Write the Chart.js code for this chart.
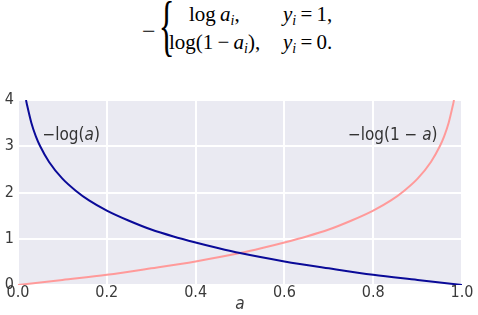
<!DOCTYPE html>
<html>
<head>
<meta charset="utf-8">
<script src="https://cdn.jsdelivr.net/npm/chart.js@4"></script>
<style>
  body { margin: 0; background: #fff; width: 478px; height: 315px; overflow: hidden; position: relative; }
  #formula { position: absolute; left: 0; top: 0; width: 478px; height: 80px; font-family: "Liberation Serif", serif; font-size: 21px; color: #000; }
  #formula span { position: absolute; line-height: 20px; white-space: nowrap; }
  #formula i { font-style: italic; }
  #formula sub { font-size: 14px; font-style: italic; vertical-align: -4px; line-height: 0; }
  #brace { font-size: 44px !important; line-height: 44px !important; transform: scale(0.75, 1.55); }
  #minus { font-size: 24px; line-height: 24px !important; }
  #wrap { position: absolute; left: 0; top: 80px; width: 478px; height: 235px; }
</style>
</head>
<body>
<div id="formula">
  <span id="minus" style="left:142px; top:19px;">−</span>
  <span id="brace" style="left:156px; top:4px;">{</span>
  <span style="left:189px; top:4px;">log&#8201;<i>a</i><sub>i</sub>,</span>
  <span style="left:283px; top:4px;"><i>y</i><sub>i</sub>&#8201;=&#8201;1,</span>
  <span style="left:169px; top:32px;">log(1&#8201;−&#8201;<i>a</i><sub>i</sub>),</span>
  <span style="left:283px; top:32px;"><i>y</i><sub>i</sub>&#8201;=&#8201;0.</span>
</div>
<div id="wrap"><canvas id="chart" width="478" height="235"></canvas></div>
<script>
// -log(a)
const blueX = [0.018, 0.02, 0.03, 0.04, 0.05, 0.07, 0.1, 0.13, 0.16, 0.2, 0.25, 0.3, 0.35, 0.4, 0.45, 0.5, 0.6, 0.7, 0.8, 0.9, 1.0];
const blueY = [4.0, 3.91, 3.51, 3.22, 3.0, 2.66, 2.30, 2.04, 1.83, 1.61, 1.39, 1.20, 1.05, 0.92, 0.80, 0.69, 0.51, 0.36, 0.22, 0.11, 0.0];
// -log(1-a)
const pinkX = [0, 0.1, 0.2, 0.3, 0.4, 0.5, 0.55, 0.6, 0.65, 0.7, 0.75, 0.8, 0.84, 0.87, 0.9, 0.93, 0.95, 0.96, 0.97, 0.98, 0.982];
const pinkY = [0, 0.11, 0.22, 0.36, 0.51, 0.69, 0.80, 0.92, 1.05, 1.20, 1.39, 1.61, 1.83, 2.04, 2.30, 2.66, 3.0, 3.22, 3.51, 3.91, 4.0];

const xTicks = [0, 0.2, 0.4, 0.6, 0.8, 1.0];
const yTicks = [0, 1, 2, 3, 4];
const labels = [
  { text: '−log(a)', x: 0.055, y: 3.22, align: 'left' },
  { text: '−log(1 − a)', x: 0.945, y: 3.22, align: 'right' }
];

const toPoints = (xs, ys) => xs.map((x, i) => ({ x: x, y: ys[i] }));
const family = '"DejaVu Sans Condensed", "DejaVu Sans", sans-serif';
const tickFont = { family: family, size: 16 };

// seaborn-ish grey panel behind the grid
const panelBg = {
  id: 'panelBg',
  beforeDraw(chart) {
    const a = chart.chartArea;
    const ctx = chart.ctx;
    ctx.save();
    ctx.fillStyle = '#eaeaf2';
    ctx.fillRect(a.left, a.top, a.right - a.left, a.bottom - a.top);
    ctx.restore();
  }
};

// text next to the curves, "a" drawn in italic
const curveLabels = {
  id: 'curveLabels',
  afterDatasetsDraw(chart) {
    const ctx = chart.ctx;
    const xs = chart.scales.x, ys = chart.scales.y;
    ctx.save();
    ctx.fillStyle = '#333';
    ctx.textBaseline = 'middle';
    labels.forEach(l => {
      const parts = l.text.split('a');
      const up = '17px ' + family, it = 'italic 17px ' + family;
      const segs = [];
      parts.forEach((p, i) => {
        if (i > 0) segs.push({ t: 'a', f: it });
        segs.push({ t: p, f: up });
      });
      let w = 0;
      segs.forEach(s => { ctx.font = s.f; w += ctx.measureText(s.t).width; });
      let px = xs.getPixelForValue(l.x);
      if (l.align === 'right') px -= w;
      const py = ys.getPixelForValue(l.y);
      segs.forEach(s => {
        ctx.font = s.f;
        ctx.fillText(s.t, px, py);
        px += ctx.measureText(s.t).width;
      });
    });
    ctx.restore();
  }
};

new Chart(document.getElementById('chart'), {
  type: 'line',
  data: {
    datasets: [{
      label: '-log(a)',
      data: toPoints(blueX, blueY),
      borderColor: '#0a0a98',
      borderWidth: 2,
      pointRadius: 0,
      cubicInterpolationMode: 'monotone'
    }, {
      label: '-log(1-a)',
      data: toPoints(pinkX, pinkY),
      borderColor: '#ff9a9a',
      borderWidth: 2,
      pointRadius: 0,
      cubicInterpolationMode: 'monotone'
    }]
  },
  options: {
    responsive: false,
    animation: false,
    layout: { padding: { top: 20, right: 16, left: 0, bottom: 0 } },
    plugins: {
      legend: { display: false },
      tooltip: { enabled: false }
    },
    scales: {
      x: {
        type: 'linear',
        min: 0,
        max: 1,
        afterBuildTicks: s => { s.ticks = xTicks.map(v => ({ value: v })); },
        afterFit: s => { s.height = 30; },
        ticks: {
          callback: v => v.toFixed(1),
          font: tickFont,
          color: '#3a3a3a',
          padding: -2,
          maxRotation: 0
        },
        grid: { color: '#fff', lineWidth: 2, drawTicks: false },
        border: { display: false },
        title: {
          display: true,
          text: 'a',
          font: { family: family, size: 17, style: 'italic' },
          color: '#3a3a3a',
          padding: { top: 0, bottom: 0 }
        }
      },
      y: {
        min: 0,
        max: 4,
        afterBuildTicks: s => { s.ticks = yTicks.map(v => ({ value: v })); },
        afterFit: s => { s.width = 18; },
        ticks: {
          font: tickFont,
          color: '#3a3a3a',
          padding: 4
        },
        grid: { color: '#fff', lineWidth: 2, drawTicks: false },
        border: { display: false }
      }
    }
  },
  plugins: [panelBg, curveLabels]
});
</script>
</body>
</html>
